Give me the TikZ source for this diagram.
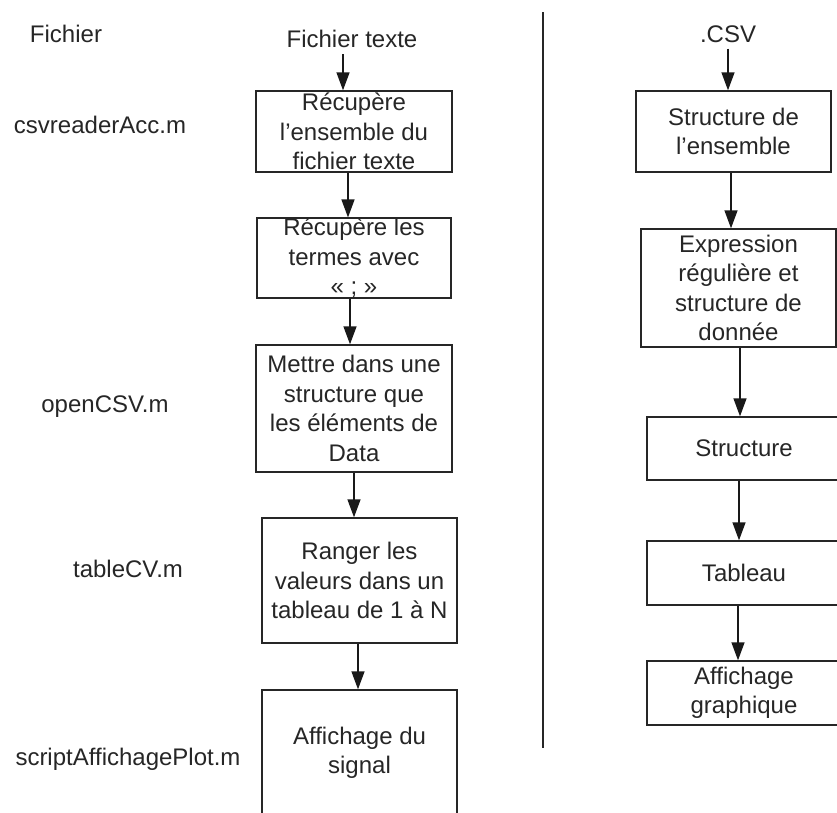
\documentclass[tikz,border=0pt]{standalone}
\usepackage{fontspec}
\setmainfont{Liberation Sans}
\usetikzlibrary{arrows.meta}
\begin{document}
\begin{tikzpicture}[x=1pt,y=-1pt,
  every node/.style={font=\fontsize{24}{29.5}\selectfont, text=black!85},
  box/.style={draw=black!85, line width=1.4pt, rectangle, inner sep=0pt, align=center},
  lbl/.style={inner sep=0pt},
  arr/.style={line width=1.4pt, draw=black!90, -{Triangle[length=18pt,width=13pt]}}]
\useasboundingbox (0,0) rectangle (837,812);
\clip (0,0) rectangle (837,812);
% left labels
\node[lbl] (lf) at (66,34) {Fichier};
\node[lbl] (lc) at (100,125) {csvreaderAcc.m};
\node[lbl] (lo) at (105,407) {openCSV.m};
\node[lbl] (lt) at (128,569) {tableCV.m};
\node[lbl] (ls) at (128,759) {scriptAffichagePlot.m};
% left column
\node[lbl] (ft) at (352,39) {Fichier texte};
\node[box, minimum width=196pt, minimum height=81pt] (b1) at (354,131.5) {Récupère\\l’ensemble du\\fichier texte};
\node[box, minimum width=194pt, minimum height=78pt] (b2) at (354,258) {Récupère les\\termes avec\\« ; »};
\node[box, minimum width=196pt, minimum height=127pt] (b3) at (354,408.5) {Mettre dans une\\structure que\\les éléments de\\Data};
\node[box, minimum width=195pt, minimum height=125pt] (b4) at (359.5,580.5) {Ranger les\\valeurs dans un\\tableau de 1 à N};
\node[box, minimum width=195pt, minimum height=126pt] (b5) at (359.5,753) {Affichage du\\signal};
% divider
\coordinate (dt) at (543,12);
\coordinate (db) at (543,748);
\draw[line width=1.6pt, black!85] (dt) -- (db);
% right column
\node[lbl] (csv) at (728,34) {.CSV};
\node[box, minimum width=195pt, minimum height=81pt] (r1) at (733.5,131.5) {Structure de\\l’ensemble};
\node[box, minimum width=195pt, minimum height=118pt] (r2) at (738.5,288) {Expression\\régulière et\\structure de\\donnée};
\node[box, minimum width=194pt, minimum height=63pt] (r3) at (744,448.5) {Structure};
\node[box, minimum width=194pt, minimum height=64pt] (r4) at (744,573) {Tableau};
\node[box, minimum width=194pt, minimum height=64pt] (r5) at (744,693) {Affichage\\graphique};
% arrows left
\draw[arr] ([xshift=-9pt,yshift=-6pt]ft.south) -- ([xshift=-9pt]ft.south |- b1.north);
\draw[arr] ([xshift=-6pt]b1.south) -- ([xshift=-6pt]b1.south |- b2.north);
\draw[arr] ([xshift=-4pt]b2.south) -- ([xshift=-4pt]b2.south |- b3.north);
\draw[arr] (b3.south) -- (b3.south |- b4.north);
\draw[arr] ([xshift=-1.5pt]b4.south) -- ([xshift=-1.5pt]b4.south |- b5.north);
% arrows right
\draw[arr] ([yshift=-6pt]csv.south) -- (csv.south |- r1.north);
\draw[arr] ([xshift=-2.5pt]r1.south) -- ([xshift=-2.5pt]r1.south |- r2.north);
\draw[arr] ([xshift=1.5pt]r2.south) -- ([xshift=1.5pt]r2.south |- r3.north);
\draw[arr] ([xshift=-5pt]r3.south) -- ([xshift=-5pt]r3.south |- r4.north);
\draw[arr] ([xshift=-6pt]r4.south) -- ([xshift=-6pt]r4.south |- r5.north);
\end{tikzpicture}
\end{document}
